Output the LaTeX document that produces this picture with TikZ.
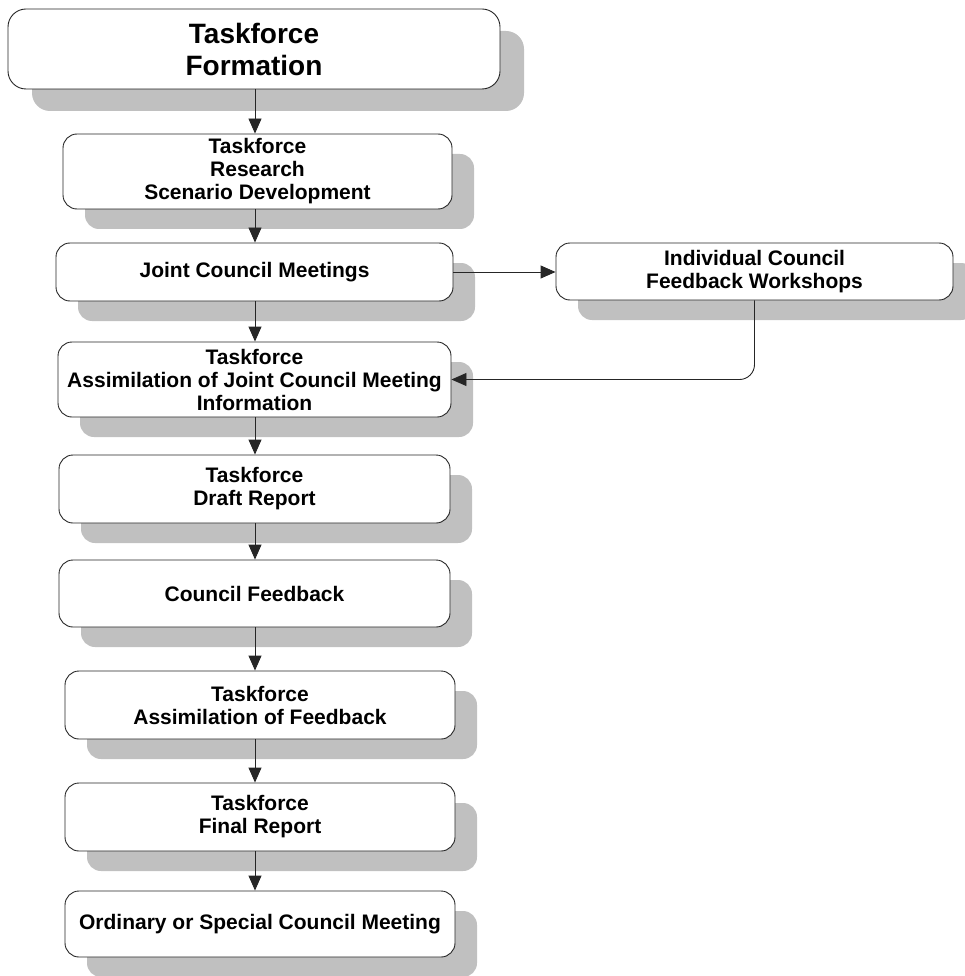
\documentclass[tikz,border=0pt]{standalone}
\usepackage{fontspec}
\setmainfont{Liberation Sans}
\usetikzlibrary{arrows.meta,shadows}
\definecolor{shadowgray}{RGB}{192,192,192}

\begin{document}
\begin{tikzpicture}[x=1pt,y=-1pt]
\tikzset{StepBase/.style={draw=black!85, line width=0.9pt, fill=white, align=center, inner sep=2pt}}
\tikzset{StepStyle/.style={StepBase, rounded corners=14pt, font=\bfseries\fontsize{21}{23}\selectfont,
  drop shadow={shadow xshift=22pt, shadow yshift=-20pt, fill=shadowgray, opacity=1}}}
\tikzset{BigStepStyle/.style={StepBase, rounded corners=18pt, font=\bfseries\fontsize{28}{32}\selectfont,
  drop shadow={shadow xshift=24pt, shadow yshift=-22pt, fill=shadowgray, opacity=1}}}
\tikzset{EdgeStyle/.style={-{Triangle[length=15pt,width=13pt]}, line width=0.9pt, black!85}}
\useasboundingbox (0,0) rectangle (964,976);
\coordinate (axis) at (255,0);
\node[BigStepStyle, minimum width=492pt, minimum height=80pt] (form) at (254,49) {Taskforce\\Formation};
\node[StepStyle, minimum width=389pt, minimum height=75pt] (research) at (257.5,171.5) {Taskforce\\Research\\Scenario Development};
\node[StepStyle, minimum width=397pt, minimum height=58pt] (joint) at (254.5,272) {Joint Council Meetings};
\node[StepStyle, minimum width=397pt, minimum height=57pt] (workshop) at (754.5,271.5) {Individual Council\\Feedback Workshops};
\node[StepStyle, minimum width=393pt, minimum height=75pt] (assimjoint) at (254.5,379.5) {Taskforce\\Assimilation of Joint Council Meeting\\Information};
\node[StepStyle, minimum width=391pt, minimum height=68pt] (draft) at (254.5,489) {Taskforce\\Draft Report};
\node[StepStyle, minimum width=391pt, minimum height=67pt] (feedback) at (254.5,593.5) {Council Feedback};
\node[StepStyle, minimum width=390pt, minimum height=68pt] (assimfeed) at (260,705) {Taskforce\\Assimilation of Feedback};
\node[StepStyle, minimum width=390pt, minimum height=68pt] (final) at (260,817) {Taskforce\\Final Report};
\node[StepStyle, minimum width=390pt, minimum height=66pt] (meeting) at (260,924) {Ordinary or Special Council Meeting};
\draw[EdgeStyle] (form.south -| axis) -- (research.north -| axis);
\draw[EdgeStyle] (research.south -| axis) -- (joint.north -| axis);
\draw[EdgeStyle] (joint.south -| axis) -- (assimjoint.north -| axis);
\draw[EdgeStyle] (assimjoint.south -| axis) -- (draft.north -| axis);
\draw[EdgeStyle] (draft.south -| axis) -- (feedback.north -| axis);
\draw[EdgeStyle] (feedback.south -| axis) -- (assimfeed.north -| axis);
\draw[EdgeStyle] (assimfeed.south -| axis) -- (final.north -| axis);
\draw[EdgeStyle] (final.south -| axis) -- (meeting.north -| axis);
\draw[EdgeStyle] (joint.east) -- (workshop.west |- joint.east);
\draw[EdgeStyle, rounded corners=15pt] (workshop.south) |- (assimjoint.east);
\end{tikzpicture}
\end{document}
